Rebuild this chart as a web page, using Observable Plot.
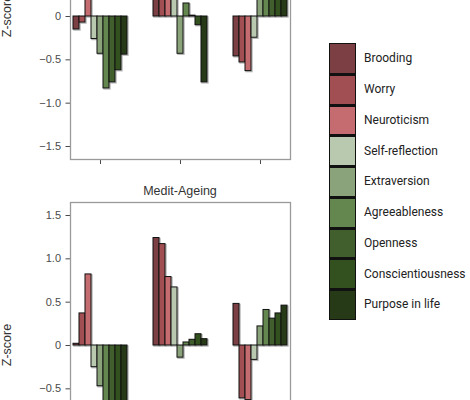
<!DOCTYPE html>
<html><head><meta charset="utf-8">
<script src="https://cdn.jsdelivr.net/npm/d3@7"></script>
<script src="https://cdn.jsdelivr.net/npm/@observablehq/plot@0.6"></script>
<style>
html,body{margin:0;padding:0;background:#fff;}
body{width:470px;height:400px;overflow:hidden;position:relative;font-family:"Liberation Sans",Arial,sans-serif;}
.panel{position:absolute;left:0;}
.title{position:absolute;left:53px;width:254px;text-align:center;font-size:12.5px;color:#333;z-index:2;}
.ylab{position:absolute;left:7px;width:0;height:0;z-index:2;}
.ylab span{position:absolute;left:0;top:0;transform:translate(-50%,-50%) rotate(-90deg);white-space:nowrap;font-size:12.5px;color:#333;line-height:1;}
#legend{position:absolute;left:329px;top:43px;}
.sw{display:flex;align-items:center;}
.box{width:25px;height:28.75px;border:1px solid #111;box-sizing:content-box;}
.lab{margin-left:8px;font-family:Roboto,sans-serif;font-size:12px;color:#222;}
</style></head><body>
<div id="p1" class="panel" style="top:-137px"></div>
<div id="p2" class="panel" style="top:192px"></div>
<div class="ylab" style="top:16px"><span>Z-score</span></div>
<div class="ylab" style="top:345px"><span>Z-score</span></div>
<div class="title" style="top:184px">Medit-Ageing</div>
<div id="legend"></div>
<script>
const traits = ["Brooding","Worry","Neuroticism","Self-reflection","Extraversion","Agreeableness","Openness","Conscientiousness","Purpose in life"];
const traitColors = ["#7b3f44","#a14f53","#c46c6f","#b9c9b0","#8aa37a","#64864f","#405f2c","#33501f","#263a17"];
const groups = ["Group 1","Group 2","Group 3"];
const yTicks = [-1.5,-1,-0.5,0,0.5,1,1.5];
// upper panel (title cropped out of view)
const upperG1 = [-0.15,-0.07,0.45,-0.26,-0.43,-0.83,-0.76,-0.62,-0.44];
const upperG2 = [0.95,0.9,0.6,0.45,-0.43,0.15,0.01,-0.10,-0.76];
const upperG3 = [-0.46,-0.53,-0.63,-0.245,0.3,0.45,0.35,0.4,0.5];
// Medit-Ageing panel
const meditG1 = [0.02,0.37,0.82,-0.25,-0.47,-0.9,-0.85,-0.78,-0.72];
const meditG2 = [1.24,1.17,0.79,0.67,-0.14,0.035,0.066,0.13,0.073];
const meditG3 = [0.48,-0.61,-0.63,-0.166,0.22,0.41,0.31,0.37,0.46];

function rows(series){
  return groups.flatMap((g,gi)=>traits.map((t,ti)=>({group:g,trait:t,value:series[gi][ti]})));
}
function fmt(d){ return d===0 ? "0" : d.toFixed(1).replace("-","\u2212"); }

function panel(series){
  const data = rows(series);
  return Plot.plot({
    width:320, height:326,
    marginLeft:53, marginRight:13, marginTop:10, marginBottom:30,
    style:{fontSize:"11px",fontFamily:"Liberation Sans, Arial, sans-serif",color:"#4a4a4a",background:"transparent"},
    facet:{data, x:"group"},
    fx:{domain:groups, paddingInner:0.25, paddingOuter:0.2125, axis:"bottom", tickFormat:()=>"", tickSize:5, label:null},
    x:{domain:traits, padding:0, axis:null},
    y:{domain:[-1.65,1.65], ticks:yTicks, tickFormat:fmt, tickSize:4.5, tickPadding:5, label:null},
    color:{domain:traits, range:traitColors},
    marks:[
      Plot.frame({facet:"super", stroke:"#9a9a9a", strokeWidth:1.3}),
      Plot.barY(data,{x:"trait",y:"value",fill:"none",stroke:"#b5b5b5",strokeWidth:1.4,dx:1,dy:1}),
      Plot.barY(data,{x:"trait",y:"value",fill:"trait",stroke:"#111",strokeWidth:1})
    ]
  });
}
document.getElementById("p1").append(panel([upperG1,upperG2,upperG3]));
document.getElementById("p2").append(panel([meditG1,meditG2,meditG3]));

const leg = document.getElementById("legend");
traits.forEach((t,i)=>{
  const row = document.createElement("div"); row.className="sw";
  const b = document.createElement("div"); b.className="box"; b.style.background=traitColors[i];
  if(i>0){ b.style.borderTop="2px solid #111"; b.style.height="27.75px"; }
  const l = document.createElement("div"); l.className="lab"; l.textContent=t;
  row.append(b,l); leg.append(row);
});
</script>
</body></html>
